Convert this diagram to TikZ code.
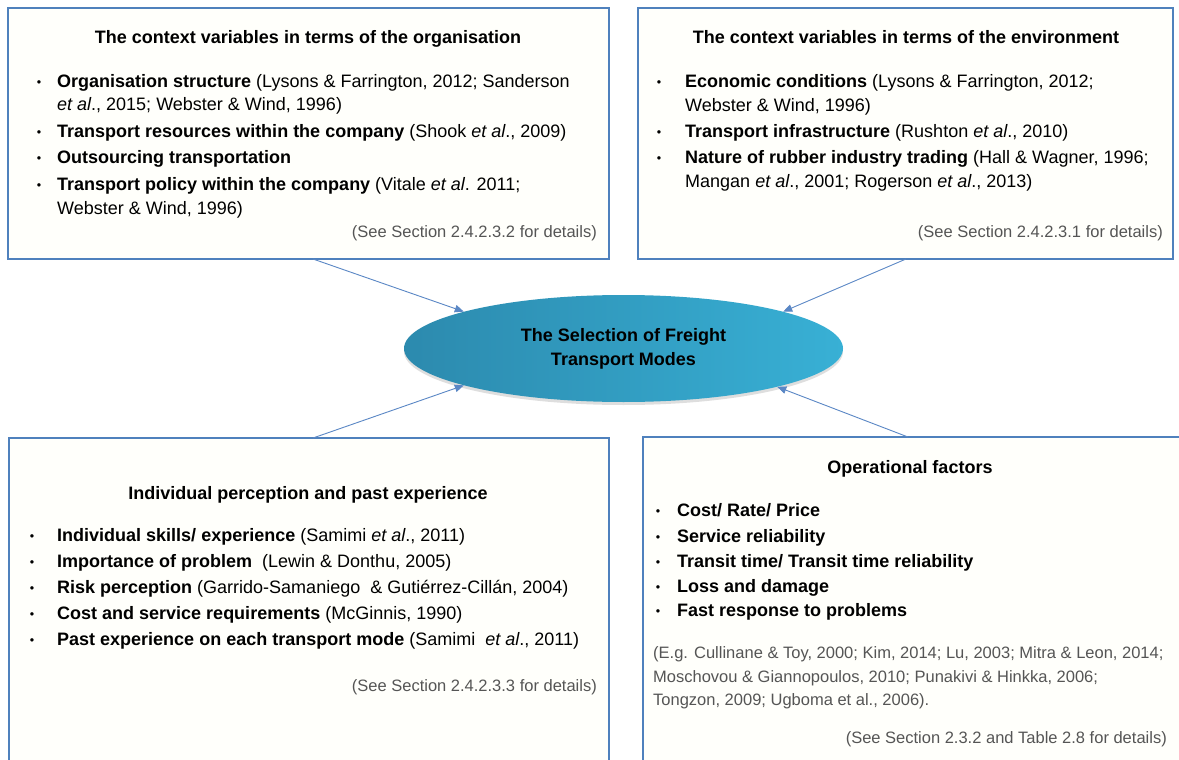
\documentclass[tikz,border=0pt]{standalone}
\usepackage{fontspec}
\setmainfont{Liberation Sans}
\usetikzlibrary{arrows.meta,shadows,shapes.geometric}
\definecolor{boxblue}{HTML}{4F81BD}
\definecolor{arrblue}{HTML}{5A87C5}
\definecolor{ellL}{HTML}{2C8AAE}
\definecolor{ellR}{HTML}{38B0D5}
\definecolor{notegray}{HTML}{555555}
\definecolor{boxfill}{HTML}{FFFFFB}
\newcommand\bul[1]{\llap{\raisebox{1pt}{\fontsize{12.5}{12.5}\selectfont\textbullet}\hspace{#1}}}
\begin{document}
\begin{tikzpicture}[x=1pt,y=-1pt,
  panel/.style={draw=boxblue, line width=2pt, fill=boxfill, anchor=north west, inner sep=0pt, outer sep=0pt},
  ttl/.style={font=\fontsize{18}{22}\selectfont\bfseries, inner sep=0pt, text height=15pt, text depth=2pt},
  itm/.style={font=\fontsize{18}{22}\selectfont, anchor=west, inner sep=0pt, text height=15pt, text depth=2pt},
  cite/.style={font=\fontsize{16.5}{20}\selectfont, text=notegray, anchor=west, inner sep=0pt, text height=14pt, text depth=1.5pt},
  note/.style={font=\fontsize{16.5}{20}\selectfont, text=notegray, anchor=east, inner sep=0pt, text height=14pt, text depth=1.5pt},
  arr/.style={draw=arrblue, line width=0.9pt, -{Triangle[length=9pt,width=7.5pt]}},
  centre/.style={ellipse, minimum width=439pt, minimum height=107pt, inner sep=0pt,
    left color=ellL, right color=ellR, align=center,
    font=\fontsize{18}{24}\selectfont\bfseries,
    drop shadow={shadow xshift=0pt, shadow yshift=-3pt, fill=black, opacity=0.13}},
]
\useasboundingbox (0,0) rectangle (1179,760);
\clip (0,0) rectangle (1179,760);
\fill[white] (0,0) rectangle (1179,760);

% panels
\node[panel, minimum width=601pt, minimum height=251pt] (tl) at (8,8) {};
\node[panel, minimum width=535pt, minimum height=251pt] (tr) at (638,8) {};
\node[panel, minimum width=600pt, minimum height=340pt] (bl) at (9,438) {};
\node[panel, minimum width=560pt, minimum height=340pt] (br) at (643,437) {};

% centre ellipse
\node[centre] (ell) at (623.5,348.5) {The Selection of Freight\\Transport Modes};

% connectors
\coordinate (tlo) at (313,259);
\coordinate (tro) at (906,259);
\coordinate (blo) at (313,438);
\coordinate (bro) at (908,437);
\draw[arr] (tlo) -- (ell.167);
\draw[arr] (tro) -- (ell.13.5);
\draw[arr] (blo) -- (ell.193);
\draw[arr] (bro) -- (ell.346.5);

% top-left panel
\node[ttl] (tlt) at (308,37) {The context variables in terms of the organisation};
\node[itm] (tl1) at (57,81) {\bul{16pt}\textbf{Organisation structure} (Lysons \& Farrington, 2012; Sanderson};
\node[itm] (tl2) at (57,104) {\textit{et al}., 2015; Webster \& Wind, 1996)};
\node[itm] (tl3) at (57,131) {\bul{16pt}\textbf{Transport resources within the company} (Shook \textit{et al}., 2009)};
\node[itm] (tl4) at (57,157) {\bul{16pt}\textbf{Outsourcing transportation}};
\node[itm] (tl5) at (57,184) {\bul{16pt}\textbf{Transport policy within the company} (Vitale \textit{et al}. 2011;};
\node[itm] (tl6) at (57,208) {Webster \& Wind, 1996)};
\node[note] (tln) at (597,231) {(See Section 2.4.2.3.2 for details)};

% top-right panel
\node[ttl] (trt) at (906,37) {The context variables in terms of the environment};
\node[itm] (tr1) at (685,81) {\bul{24pt}\textbf{Economic conditions} (Lysons \& Farrington, 2012;};
\node[itm] (tr2) at (685,105) {Webster \& Wind, 1996)};
\node[itm] (tr3) at (685,131) {\bul{24pt}\textbf{Transport infrastructure} (Rushton \textit{et al}., 2010)};
\node[itm] (tr4) at (685,157) {\bul{24pt}\textbf{Nature of rubber industry trading} (Hall \& Wagner, 1996;};
\node[itm] (tr5) at (685,181) {Mangan \textit{et al}., 2001; Rogerson \textit{et al}., 2013)};
\node[note] (trn) at (1163,231) {(See Section 2.4.2.3.1 for details)};

% bottom-left panel
\node[ttl] (blt) at (308,493) {Individual perception and past experience};
\node[itm] (bl1) at (57,535) {\bul{23pt}\textbf{Individual skills/ experience} (Samimi \textit{et al}., 2011)};
\node[itm] (bl2) at (57,561) {\bul{23pt}\textbf{Importance of problem}\ \ (Lewin \& Donthu, 2005)};
\node[itm] (bl3) at (57,587) {\bul{23pt}\textbf{Risk perception} (Garrido-Samaniego\ \ \& Gutiérrez-Cillán, 2004)};
\node[itm] (bl4) at (57,613) {\bul{23pt}\textbf{Cost and service requirements} (McGinnis, 1990)};
\node[itm] (bl5) at (57,639) {\bul{23pt}\textbf{Past experience on each transport mode} (Samimi\ \ \textit{et al}., 2011)};
\node[note] (bln) at (597,685) {(See Section 2.4.2.3.3 for details)};

% bottom-right panel
\node[ttl] (brt) at (910,467) {Operational factors};
\node[itm] (br1) at (677,510) {\bul{17pt}\textbf{Cost/ Rate/ Price}};
\node[itm] (br2) at (677,536) {\bul{17pt}\textbf{Service reliability}};
\node[itm] (br3) at (677,561) {\bul{17pt}\textbf{Transit time/ Transit time reliability}};
\node[itm] (br4) at (677,586) {\bul{17pt}\textbf{Loss and damage}};
\node[itm] (br5) at (677,610) {\bul{17pt}\textbf{Fast response to problems}};
\node[cite] (brc1) at (653,652) {(E.g. Cullinane \& Toy, 2000; Kim, 2014; Lu, 2003; Mitra \& Leon, 2014;};
\node[cite] (brc2) at (653,676) {Moschovou \& Giannopoulos, 2010; Punakivi \& Hinkka, 2006;};
\node[cite] (brc3) at (653,699) {Tongzon, 2009; Ugboma et al., 2006).};
\node[note] (brn) at (1167,737) {(See Section 2.3.2 and Table 2.8 for details)};
\end{tikzpicture}
\end{document}
